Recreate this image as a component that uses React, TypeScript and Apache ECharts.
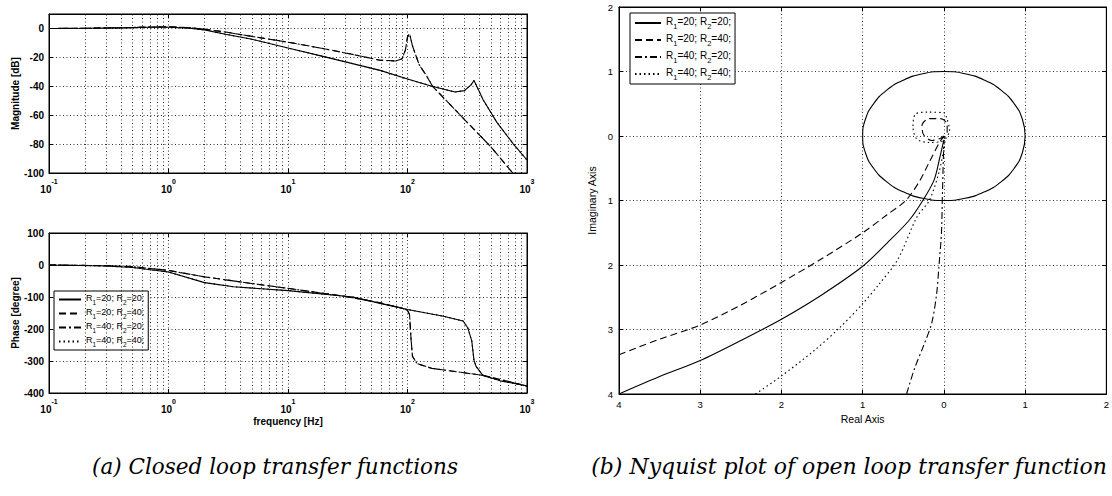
import React, { useEffect, useRef } from "react";
import * as echarts from "echarts";

// ---- names ----
const seriesNames = ["R1=20; R2=20;", "R1=20; R2=40;", "R1=40; R2=20;", "R1=40; R2=40;"];

// ---- magnitude (dB) ----
const magFreqA = [0.1, 0.2, 0.4, 0.7, 1, 1.5, 2, 3, 5, 10, 20, 59, 100, 160, 250, 300, 340, 360, 380, 427, 560, 770, 1000];
const magA = [0, 0.1, 0.4, 0.8, 0.8, 0.2, -1, -4, -7.5, -13.5, -19.5, -29, -35, -40, -44, -43, -39, -36, -40, -49, -65, -80, -91];
const magFreqB = [0.1, 0.2, 0.4, 0.7, 1, 1.5, 2, 3, 5, 10, 20, 40, 59, 80, 90, 96, 100, 104, 110, 125, 145, 162, 300, 500, 760, 1000];
const magB = [0, 0.1, 0.5, 1, 1.2, 0.5, -0.5, -2.5, -5.5, -9.5, -14, -19, -22, -22.5, -21, -15, -6, -3.5, -12, -25, -33, -40, -63, -82, -100, -109];

// ---- phase (degree) ----
const phFreqA = [0.1, 0.3, 0.5, 1, 2, 3.5, 10, 35, 59, 100, 200, 292, 320, 345, 360, 375, 427, 600, 1000];
const phA = [0, -3, -8, -22, -55, -68, -80, -100, -120, -139, -160, -175, -197, -237, -298, -317, -345, -362, -378];
const phFreqB = [0.1, 0.3, 0.5, 1, 2, 5, 10, 30, 59, 90, 100, 104, 107, 110, 120, 160, 250, 430, 1000];
const phB = [0, -2, -5, -17, -37, -58, -73, -98, -118, -135, -142, -155, -230, -285, -308, -323, -333, -345, -378];

// ---- Nyquist (real, imag) ----
const nyqSolid = [[-4, -4], [-3.5, -3.73], [-3, -3.48], [-2.5, -3.17], [-2, -2.84], [-1.5, -2.46], [-1, -2.02], [-0.7, -1.66], [-0.43, -1.31], [-0.26, -1.0], [-0.12, -0.68], [-0.05, -0.33], [0, -0.06]];
const nyqDashed = [[-4, -3.39], [-3.5, -3.15], [-3, -2.93], [-2.5, -2.62], [-2, -2.27], [-1.5, -1.9], [-1, -1.5], [-0.7, -1.22], [-0.47, -1.0], [-0.3, -0.7], [-0.17, -0.38], [-0.04, -0.07], [0.04, 0.06], [0.04, 0.18], [-0.04, 0.27], [-0.18, 0.27], [-0.27, 0.16], [-0.25, 0.02], [-0.15, -0.07], [-0.05, -0.04], [0, 0]];
const nyqDashDot = [[-0.46, -4], [-0.36, -3.6], [-0.25, -3.25], [-0.15, -2.9], [-0.09, -2.45], [-0.06, -2.0], [-0.03, -1.5], [-0.02, -1.0], [-0.01, -0.5], [0, -0.07]];
const nyqDotted = [[-2.32, -4], [-2, -3.72], [-1.6, -3.33], [-1.29, -2.98], [-1, -2.6], [-0.8, -2.3], [-0.57, -1.92], [-0.33, -1.25], [-0.18, -1.0], [-0.06, -0.56], [0, -0.2], [0.02, -0.05], [0.07, 0.08], [0.03, 0.3], [0, 0.36], [-0.2, 0.37], [-0.35, 0.34], [-0.38, 0.13], [-0.33, -0.05], [-0.18, -0.1], [-0.02, -0.08], [0.02, 0]];
const unitCircle = [[1, 0], [0.966, 0.259], [0.866, 0.5], [0.707, 0.707], [0.5, 0.866], [0.259, 0.966], [0, 1], [-0.259, 0.966], [-0.5, 0.866], [-0.707, 0.707], [-0.866, 0.5], [-0.966, 0.259], [-1, 0], [-0.966, -0.259], [-0.866, -0.5], [-0.707, -0.707], [-0.5, -0.866], [-0.259, -0.966], [0, -1], [0.259, -0.966], [0.5, -0.866], [0.707, -0.707], [0.866, -0.5], [0.966, -0.259], [1, 0]];

// ---- axis ticks ----
const minorFreqs = [0.2, 0.3, 0.4, 0.5, 0.6, 0.7, 0.8, 0.9, 2, 3, 4, 5, 6, 7, 8, 9, 20, 30, 40, 50, 60, 70, 80, 90, 200, 300, 400, 500, 600, 700, 800, 900];

const captions = ["(a) Closed loop transfer functions", "(b) Nyquist plot of open loop transfer function"];

const FONT = "Liberation Sans";
const pairs = (xs: number[], ys: number[]) => xs.map((x, i) => [x, ys[i]]);
const dashTypes: any[] = ["solid", [7, 4], [7, 3, 2, 3], [1.5, 3]];
const gridDot: any = [1, 2.5];

function App() {
  const ref = useRef<HTMLDivElement>(null);
  useEffect(() => {
    const chart = echarts.init(ref.current!, null, { renderer: "svg" });
    const supFmt = (v: number) => `{b|10}{sup|${Math.round(Math.log10(v))}}`;
    const supRich = {
      b: { fontSize: 10, fontWeight: "bold", fontFamily: FONT, color: "#000", lineHeight: 16, verticalAlign: "bottom" },
      sup: { fontSize: 7, fontWeight: "bold", fontFamily: FONT, color: "#000", lineHeight: 16, verticalAlign: "top" },
    };
    const axisLine = { show: true, onZero: false, lineStyle: { color: "#000", width: 1 } };
    const tick = { show: true, inside: true, length: 4, lineStyle: { color: "#000" } };
    const split = { show: true, lineStyle: { color: "#000", type: gridDot, width: 0.8 } };
    const labelL = { fontSize: 10, fontWeight: "bold", fontFamily: FONT, color: "#000" };
    const labelR = { fontSize: 9.5, fontFamily: FONT, color: "#000" };
    const nameR = { fontSize: 10.5, fontFamily: FONT, color: "#000" };
    const logX = (gi: number, extra: any = {}) => ({
      gridIndex: gi, type: "log", logBase: 10, min: 0.1, max: 1000,
      axisLine, axisTick: tick, splitLine: split,
      axisLabel: { formatter: supFmt, rich: supRich, margin: 5 },
      ...extra,
    });
    const abs = (v: number) => String(Math.abs(v));
    const legendFmt = (name: string) => {
      const m = name.match(/R1=(\d+); R2=(\d+);/)!;
      return `{n|R}{s|1}{n|=${m[1]}; R}{s|2}{n|=${m[2]};}`;
    };
    const legendRich = (fs: number) => ({
      n: { fontSize: fs, fontFamily: FONT, color: "#000", lineHeight: fs + 4, verticalAlign: "top" },
      s: { fontSize: fs - 2.5, fontFamily: FONT, color: "#000", lineHeight: fs + 4, verticalAlign: "bottom" },
    });
    const lineS = (name: string, idx: number, gi: number, data: any[], extra: any = {}) => ({
      name, type: "line", xAxisIndex: gi, yAxisIndex: gi, data, symbol: "none", showSymbol: false,
      lineStyle: { color: "#000", width: 1.1, type: dashTypes[idx] }, itemStyle: { color: "#000" },
      ...extra,
    });
    const minorMark = {
      silent: true, symbol: ["none", "none"], label: { show: false },
      lineStyle: { color: "#000", type: gridDot, width: 0.8 },
      data: minorFreqs.map((v) => ({ xAxis: v })),
    };
    const magA2 = pairs(magFreqA, magA);
    const magB2 = pairs(magFreqB, magB);
    const phA2 = pairs(phFreqA, phA);
    const phB2 = pairs(phFreqB, phB);
    const legendBase = {
      data: seriesNames, orient: "vertical", backgroundColor: "#fff",
      borderColor: "#000", borderWidth: 1, borderRadius: 0, selectedMode: false, formatter: legendFmt,
      itemStyle: { opacity: 0, borderWidth: 0 },
    };

    const option: any = {
      animation: false,
      backgroundColor: "#fff",
      grid: [
        { left: 49, top: 14, width: 478, height: 159, show: true, borderColor: "#000", borderWidth: 1 },
        { left: 49, top: 233, width: 478, height: 160, show: true, borderColor: "#000", borderWidth: 1 },
        { left: 619, top: 7, width: 492, height: 387, show: true, borderColor: "#000", borderWidth: 1 },
      ],
      xAxis: [
        logX(0),
        logX(1, { name: "frequency [Hz]", nameLocation: "middle", nameGap: 23, nameTextStyle: { ...labelL } }),
        {
          gridIndex: 2, type: "value", min: -4, max: 2, interval: 1, axisLine, axisTick: tick, splitLine: split,
          axisLabel: { ...labelR, formatter: abs, margin: 5 },
          name: "Real Axis", nameLocation: "middle", nameGap: 14, nameTextStyle: { ...nameR },
        },
        { ...logX(0), position: "top", axisLabel: { show: false }, splitLine: { show: false } },
        { ...logX(1), position: "top", axisLabel: { show: false }, splitLine: { show: false }, name: "" },
        { gridIndex: 2, type: "value", min: -4, max: 2, interval: 1, position: "top", axisLine, axisTick: tick, axisLabel: { show: false }, splitLine: { show: false } },
      ],
      yAxis: [
        {
          gridIndex: 0, type: "value", min: -100, max: 10, interval: 20, axisLine, axisTick: tick, splitLine: split,
          axisLabel: { ...labelL, margin: 5, showMaxLabel: false },
          name: "Magnitude [dB]", nameLocation: "middle", nameRotate: 90, nameGap: 28, nameTextStyle: { ...labelL },
        },
        {
          gridIndex: 1, type: "value", min: -400, max: 100, interval: 100, axisLine, axisTick: tick, splitLine: split,
          axisLabel: { ...labelL, margin: 5 },
          name: "Phase [degree]", nameLocation: "middle", nameRotate: 90, nameGap: 28, nameTextStyle: { ...labelL },
        },
        {
          gridIndex: 2, type: "value", min: -4, max: 2, interval: 1, axisLine, axisTick: tick, splitLine: split,
          axisLabel: { ...labelR, formatter: abs, margin: 6 },
          name: "Imaginary Axis", nameLocation: "middle", nameRotate: 90, nameGap: 22, nameTextStyle: { ...nameR },
        },
        { gridIndex: 0, type: "value", min: -100, max: 10, interval: 20, position: "right", axisLine, axisTick: tick, axisLabel: { show: false }, splitLine: { show: false } },
        { gridIndex: 1, type: "value", min: -400, max: 100, interval: 100, position: "right", axisLine, axisTick: tick, axisLabel: { show: false }, splitLine: { show: false } },
        { gridIndex: 2, type: "value", min: -4, max: 2, interval: 1, position: "right", axisLine, axisTick: tick, axisLabel: { show: false }, splitLine: { show: false } },
      ],
      legend: [
        {
          ...legendBase, left: 54, top: 291, padding: [2, 4, 2, 4], itemGap: 1,
          itemWidth: 22, itemHeight: 12, textStyle: { rich: legendRich(9) },
        },
        {
          ...legendBase, left: 630, top: 13, padding: [3, 4, 3, 4], itemGap: 3,
          itemWidth: 26, itemHeight: 13, textStyle: { rich: legendRich(10) },
        },
      ],
      series: [
        // magnitude
        lineS(seriesNames[3], 3, 0, magA2, { markLine: minorMark }),
        lineS(seriesNames[2], 2, 0, magB2),
        lineS(seriesNames[0], 0, 0, magA2),
        lineS(seriesNames[1], 1, 0, magB2),
        // phase
        lineS(seriesNames[3], 3, 1, phA2, { markLine: minorMark }),
        lineS(seriesNames[2], 2, 1, phB2),
        lineS(seriesNames[0], 0, 1, phA2),
        lineS(seriesNames[1], 1, 1, phB2),
        // nyquist
        lineS("unit circle", 0, 2, unitCircle, { smooth: 0.5 }),
        lineS(seriesNames[0], 0, 2, nyqSolid, { smooth: 0.3 }),
        lineS(seriesNames[1], 1, 2, nyqDashed, { smooth: 0.3 }),
        lineS(seriesNames[2], 2, 2, nyqDashDot, { smooth: 0.3 }),
        lineS(seriesNames[3], 3, 2, nyqDotted, { smooth: 0.3 }),
      ],
      graphic: [
        { type: "text", x: 275, y: 466, style: { text: captions[0], font: 'italic 21.5px "DejaVu Serif"', fill: "#000", align: "center", verticalAlign: "middle" } },
        { type: "text", x: 849, y: 466, style: { text: captions[1], font: 'italic 22px "DejaVu Serif"', fill: "#000", align: "center", verticalAlign: "middle" } },
      ],
    };
    chart.setOption(option);
    return () => chart.dispose();
  }, []);
  return <div ref={ref} style={{ position: "fixed", left: 0, top: 0, width: 1112, height: 496, background: "#fff" }} />;
}

export default App;
